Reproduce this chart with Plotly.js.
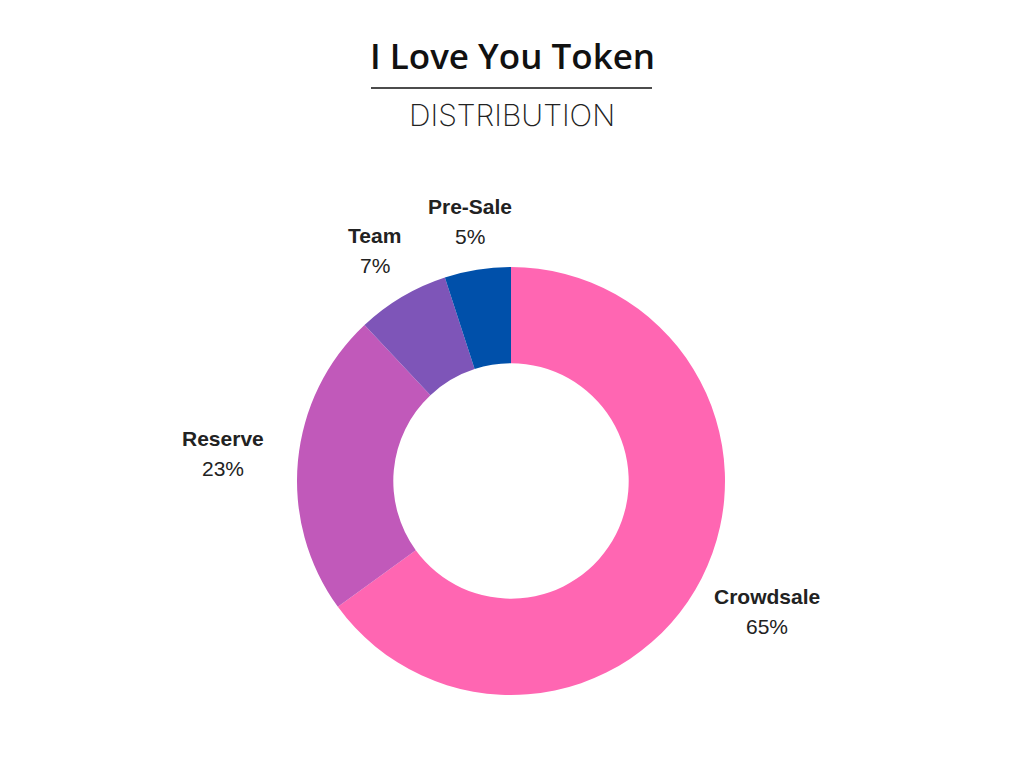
<!DOCTYPE html>
<html><head><meta charset="utf-8">
<script src="https://cdn.plot.ly/plotly-3.0.1.min.js"></script>
<style>html,body{margin:0;padding:0;background:#fff}#chart{width:1024px;height:768px}</style>
</head><body><div id="chart"></div>
<script>
const categories = ["Crowdsale", "Reserve", "Team", "Pre-Sale"];
const shares = [65, 23, 7, 5];
const sliceColors = ["#FF66B2", "#C159BA", "#7E55B8", "#0050AA"];
const labelRadius = [1.34, 1.35, 1.25, 1.23];

const W = 1024, H = 768;
const cx = 511, cy = 481, R = 214;

const total = shares.reduce((a, b) => a + b, 0);
let cum = 0;
const annotations = [];
const labelFont = {family: "Liberation Sans, Arial, sans-serif", size: 21, color: "#222"};
categories.forEach((c, i) => {
  const mid = (cum + shares[i] / 2) / total * 2 * Math.PI;
  cum += shares[i];
  const r = R * labelRadius[i];
  const px = cx + r * Math.sin(mid);
  const py = cy - r * Math.cos(mid);
  annotations.push({
    xref: "paper", yref: "paper",
    x: px / W, y: 1 - (py - 15) / H,
    xanchor: "center", yanchor: "middle",
    text: "<b>" + c + "</b>",
    showarrow: false, font: labelFont
  });
  annotations.push({
    xref: "paper", yref: "paper",
    x: px / W, y: 1 - (py + 15) / H,
    xanchor: "center", yanchor: "middle",
    text: Math.round(shares[i] / total * 100) + "%",
    showarrow: false, font: labelFont
  });
});

annotations.push({
  xref: "paper", yref: "paper", x: 0.5, y: 1 - 56 / H,
  xanchor: "center", yanchor: "middle", showarrow: false,
  text: "I Love You Token",
  font: {family: "Open Sans, sans-serif", size: 35, color: "#111", weight: 600}
});
annotations.push({
  xref: "paper", yref: "paper", x: 0.5, y: 1 - 115 / H,
  xanchor: "center", yanchor: "middle", showarrow: false,
  text: "DISTRIBUTION",
  font: {family: "Inter, sans-serif", size: 30, color: "#222", weight: 200}
});

const data = [{
  type: "pie",
  labels: categories,
  values: shares,
  hole: 0.55,
  sort: false,
  direction: "clockwise",
  rotation: 0,
  marker: {colors: sliceColors, line: {width: 0}},
  textinfo: "none",
  hoverinfo: "label+percent",
  domain: {x: [(cx - R) / W, (cx + R) / W], y: [1 - (cy + R) / H, 1 - (cy - R) / H]}
}];

const layout = {
  width: W, height: H,
  margin: {l: 0, r: 0, t: 0, b: 0},
  showlegend: false,
  paper_bgcolor: "#fff",
  annotations: annotations,
  shapes: [{type: "line", xref: "paper", yref: "paper",
    x0: 371 / W, x1: 652 / W, y0: 1 - 88 / H, y1: 1 - 88 / H,
    line: {color: "#111", width: 1.5}}]
};

Plotly.newPlot("chart", data, layout, {displayModeBar: false});
</script></body></html>
